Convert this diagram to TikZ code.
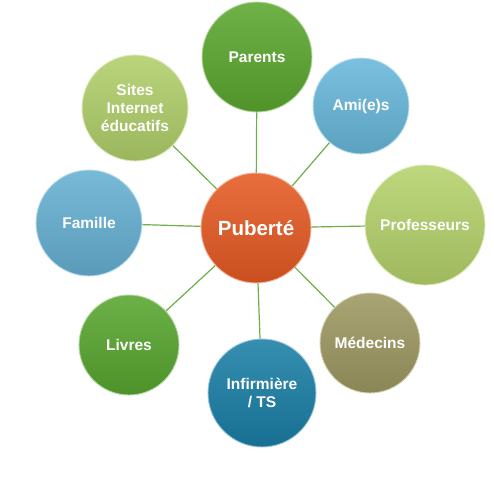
\documentclass[tikz,border=0pt]{standalone}
\usepackage{fontspec}
\setmainfont{Liberation Sans}
\usepackage{tikz}
\definecolor{orangePub}{HTML}{E65A24}
\definecolor{greenPar}{HTML}{5BA72F}
\definecolor{blueAmi}{HTML}{68B8DA}
\definecolor{limeProf}{HTML}{B5D26C}
\definecolor{khakiMed}{HTML}{9E9862}
\definecolor{tealInf}{HTML}{1A7EA6}
\definecolor{greenLiv}{HTML}{57A62F}
\definecolor{blueFam}{HTML}{66B0D2}
\definecolor{limeSite}{HTML}{B0CF6A}
\definecolor{linkgreen}{HTML}{6DAE48}

\begin{document}
\begin{tikzpicture}[x=1pt, y=-1pt,
  bubble/.style 2 args={
    circle, minimum size=#2, inner sep=0pt, align=center,
    top color=#1!88!white, bottom color=#1!88!black,
    draw=#1!45!white, line width=0.9pt,
    text=white, font=\bfseries\fontsize{15.5}{18}\selectfont
  },
  link/.style={draw=linkgreen, line width=1.2pt}
]
\useasboundingbox (0,0) rectangle (494,487);
% hub
\node[bubble={orangePub}{110pt}, font=\bfseries\fontsize{20.5}{24}\selectfont]
      (pub) at (256,228) {Puberté};
% satellites
\node[bubble={greenPar}{110pt}]  (par)  at (257,57)  {Parents};
\node[bubble={blueAmi}{96pt}]    (ami)  at (361,106) {Ami(e)s};
\node[bubble={limeProf}{120pt}]  (prof) at (425,225) {Professeurs};
\node[bubble={khakiMed}{100pt}]  (med)  at (370,343) {Médecins};
\node[bubble={tealInf}{108pt}]   (inf)  at (262,393) {Infirmière\\/ TS};
\node[bubble={greenLiv}{100pt}]  (liv)  at (129,345) {Livres};
\node[bubble={blueFam}{106pt}]   (fam)  at (89,223)  {Famille};
\node[bubble={limeSite}{106pt}]  (site) at (135,108) {Sites\\Internet\\éducatifs};
% links
\foreach \n in {par,ami,prof,med,inf,liv,fam,site}
  \draw[link] (pub) -- (\n);
\end{tikzpicture}
\end{document}
